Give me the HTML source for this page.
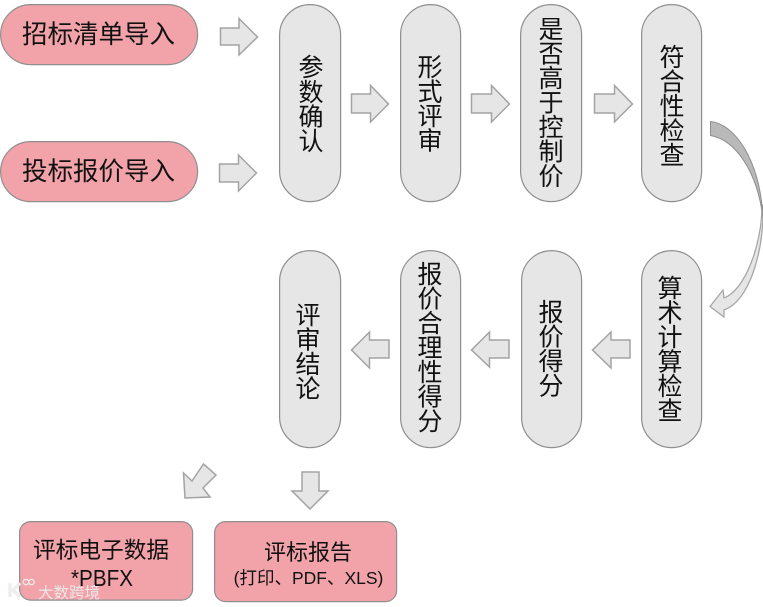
<!DOCTYPE html>
<html><head><meta charset="utf-8">
<style>
html,body{margin:0;padding:0;background:#fff;}
svg{display:block;}
text{font-family:"Liberation Sans","Noto Sans CJK SC",sans-serif;fill:#111;font-weight:400;}
.v{font-size:25px;text-anchor:middle;}
.pill{fill:#e6e6e6;stroke:#8f8f8f;stroke-width:1.2;}
.pink{fill:#f1a3a9;stroke:#8f8f8f;stroke-width:1.2;}
.arr{fill:#e6e6e6;stroke:#a3a3a3;stroke-width:1.5;}
</style></head>
<body>
<svg width="763" height="607" viewBox="0 0 763 607" xmlns="http://www.w3.org/2000/svg">
<rect class="pink" x="0.6" y="4.6" width="197" height="60" rx="30" ry="30"/>
<rect class="pink" x="0.6" y="141.6" width="197" height="60" rx="30" ry="30"/>
<text x="22" y="43" style="font-size:25.5px">招标清单导入</text>
<text x="22" y="180" style="font-size:25.5px">投标报价导入</text>

<rect class="pill" x="279.6" y="4.6" width="61" height="197" rx="30.5"/>
<rect class="pill" x="400.6" y="4.6" width="60" height="197" rx="30"/>
<rect class="pill" x="520.6" y="4.6" width="61" height="197" rx="30.5"/>
<rect class="pill" x="641.6" y="4.6" width="60" height="197" rx="30"/>
<rect class="pill" x="279.6" y="250.6" width="61" height="197" rx="30.5"/>
<rect class="pill" x="400.6" y="250.6" width="60" height="197" rx="30"/>
<rect class="pill" x="521.6" y="250.6" width="60" height="197" rx="30"/>
<rect class="pill" x="641.6" y="250.6" width="60" height="197" rx="30"/>

<text class="v" x="311 311 311 311" y="76 101 125.500 150">参数确认</text>
<text class="v" x="430 430 430 430" y="76 100.500 125 149.500">形式评审</text>
<text class="v" x="551 551 551 551 551 551 551" y="38 62.500 87 111.500 136 160.500 185">是否高于控制价</text>
<text class="v" x="672 672 672 672 672" y="66 90.500 115 139.500 164">符合性检查</text>
<text class="v" x="670 670 670 670 670 670" y="297 321.500 346 370.500 395 419.500">算术计算检查</text>
<text class="v" x="551 551 551 551" y="321 345.500 370 394.500">报价得分</text>
<text class="v" x="430 430 430 430 430 430 430" y="283 307.500 332 356.500 381 405.500 430">报价合理性得分</text>
<text class="v" x="308 308 308 308" y="324 348.500 373 397.500">评审结论</text>

<!-- right arrows -->
<polygon class="arr" points="220.500,28 239,28 239,18.500 257.500,37 239,55 239,45 220.500,45"/>
<polygon class="arr" points="219.500,164 238.500,164 238.500,155 256.500,173 238.500,191 238.500,182 219.500,182"/>
<polygon class="arr" points="351.500,94 370.500,94 370.500,85.500 388.500,104 370.500,122 370.500,113 351.500,113"/>
<polygon class="arr" points="471.500,94 491.500,94 491.500,85.500 509.500,104 491.500,122 491.500,113 471.500,113"/>
<polygon class="arr" points="594.500,94 614.500,94 614.500,85.500 632.500,104 614.500,122 614.500,113 594.500,113"/>
<!-- left arrows -->
<polygon class="arr" points="630,340 611,340 611,332 592.500,350 611,368 611,358 630,358"/>
<polygon class="arr" points="509,340 489.500,340 489.500,332 471.500,350 489.500,367 489.500,358 509,358"/>
<polygon class="arr" points="389,340 369.500,340 369.500,332 351.500,350 369.500,368 369.500,358 389,358"/>
<!-- down arrows -->
<polygon class="arr" points="203.500,464 216,475 203,488 210,497 185,498 183.500,473 192,481"/>
<polygon class="arr" points="302,472 319,472 319,491 328,491 310,509 292,491 302,491"/>

<!-- curved arrow -->
<path d="M762,205 C762,245 745,290 724,298 L723,290 L710,306.500 L724,317 L724,310 C748,302 764,255 763,205 Z" fill="#e6e6e6" stroke="#a3a3a3" stroke-width="1.2"/>
<path d="M710.500,121.500 C735,124 760,160 763,218 C757,170 735,140 710.500,135.500 Z" fill="#b9b9b9" stroke="#8f8f8f" stroke-width="1"/>

<!-- bottom boxes -->
<rect class="pink" x="19.600" y="521.600" width="173" height="78.500" rx="11"/>
<rect class="pink" x="214.600" y="521.600" width="182" height="80" rx="11"/>
<text x="33" y="558" style="font-size:22.700px">评标电子数据</text>
<text x="71" y="586" textLength="62" lengthAdjust="spacingAndGlyphs" style="font-size:23px">*PBFX</text>
<text x="308" y="560" text-anchor="middle" style="font-size:22px">评标报告</text>
<text x="308.500" y="584" text-anchor="middle" style="font-size:17.500px">(打印、PDF、XLS)</text>

<!-- watermark -->
<g>
<path d="M10,583 V597 M20,583 L13,590 L20,597" fill="none" stroke="#f0eded" stroke-width="3.500"/>
<circle cx="26" cy="582" r="2.700" fill="none" stroke="#f0eded" stroke-width="1.200"/>
<circle cx="31.500" cy="582" r="2.700" fill="none" stroke="#f0eded" stroke-width="1.200"/>
<text x="38" y="598" style="font-size:15.500px;fill:#efe6e6">大数跨境</text>
</g>
</svg>
</body></html>
